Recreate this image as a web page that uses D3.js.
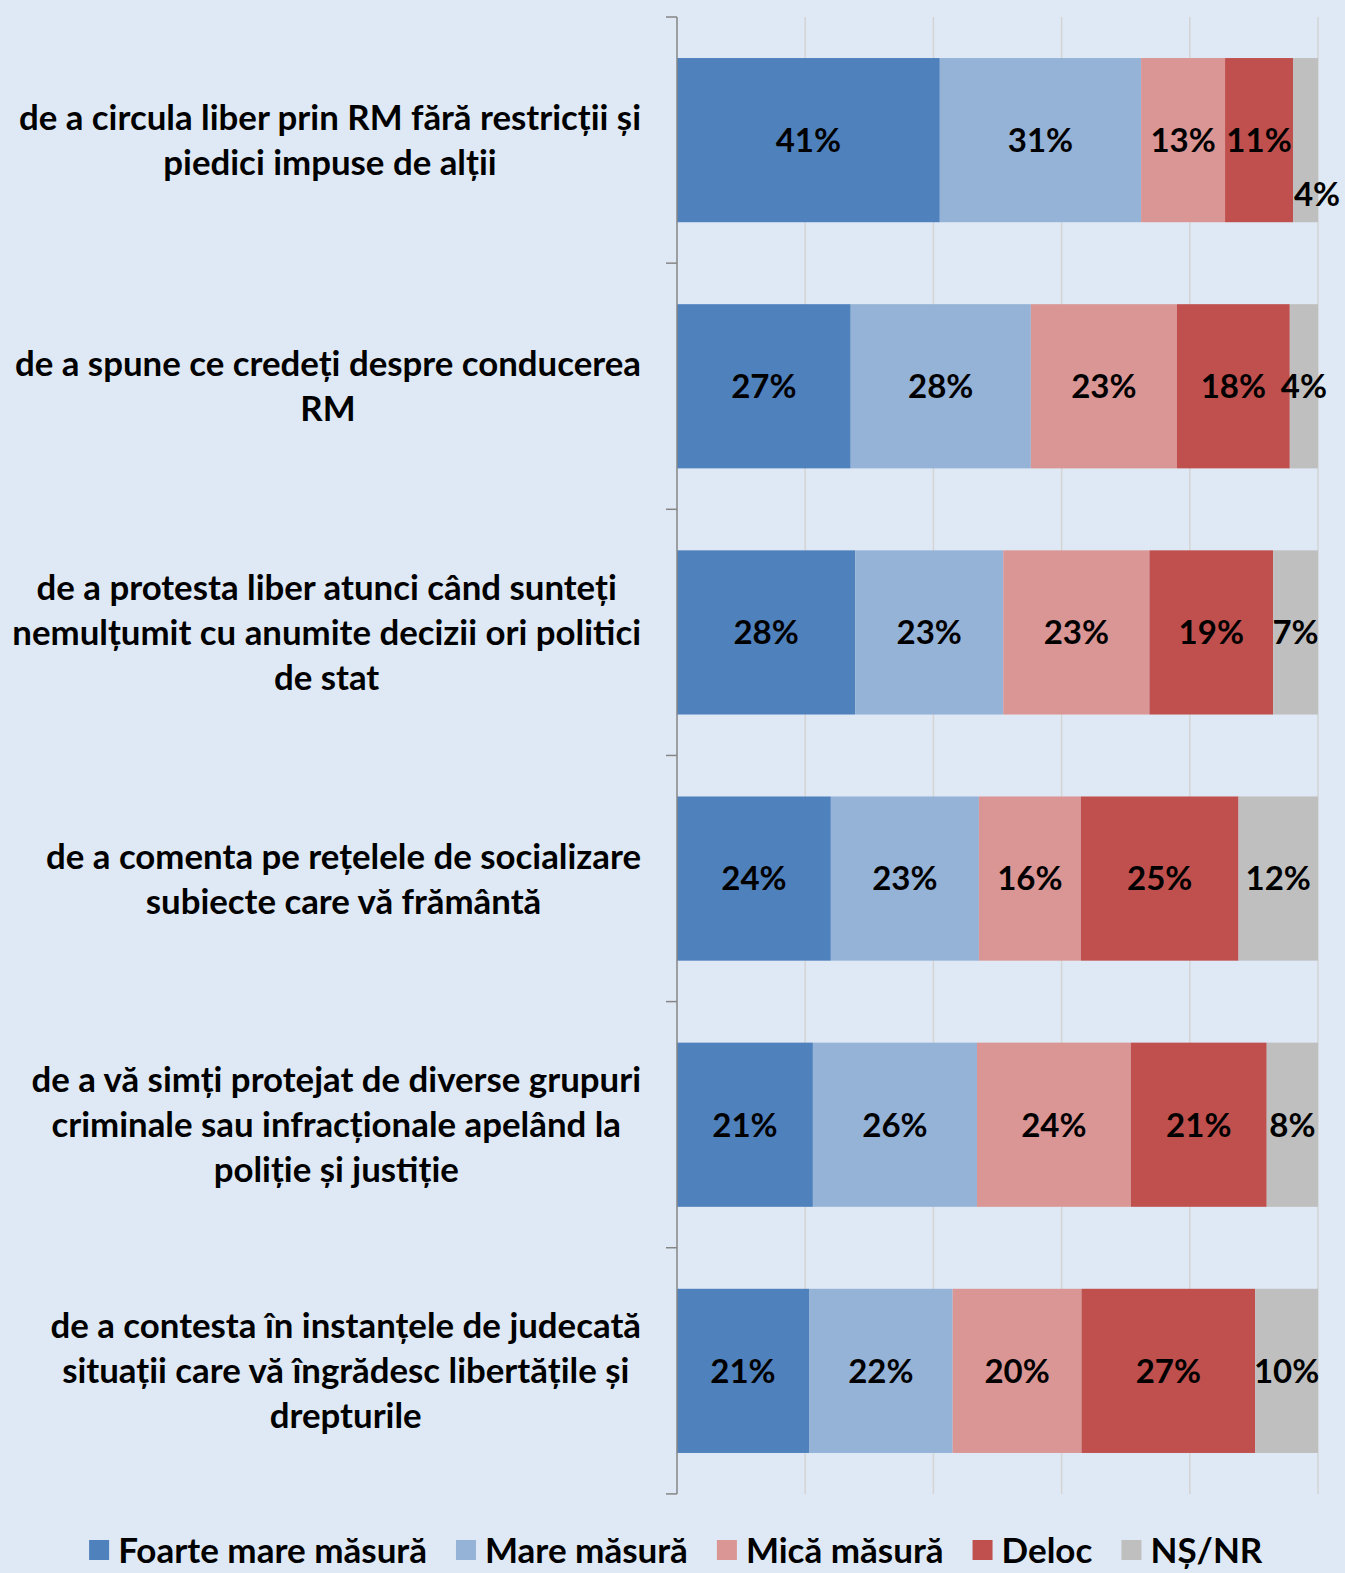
<!DOCTYPE html>
<html>
<head>
<meta charset="utf-8">
<style>
body { margin: 0; background: #dfe9f5; }
svg { display: block; }
text { font-family: Lato, "Open Sans", sans-serif; font-weight: 700; fill: #000; }
</style>
</head>
<body>
<svg width="1345" height="1573"></svg>
<script src="https://d3js.org/d3.v7.min.js"></script>
<script>
// categories, each one split into the lines shown on the chart
var categories = [
  ["de a circula liber prin RM fără restricții și", "piedici impuse de alții"],
  ["de a spune ce credeți despre conducerea", "RM"],
  ["de a protesta liber atunci când sunteți", "nemulțumit cu anumite decizii ori politici", "de stat"],
  ["de a comenta pe rețelele de socializare", "subiecte care vă frământă"],
  ["de a vă simți protejat de diverse grupuri", "criminale sau infracționale apelând la", "poliție și justiție"],
  ["de a contesta în instanțele de judecată", "situații care vă îngrădesc libertățile și", "drepturile"]
];
var seriesNames = ["Foarte mare măsură", "Mare măsură", "Mică măsură", "Deloc", "NȘ/NR"];
var seriesColors = ["#4f81bd", "#95b3d7", "#da9694", "#c0504d", "#bfbfbf"];

// percentages per series, one per category
var foarteMare = [41.0, 27.1, 27.8, 24.0, 21.2, 20.6];
var mare       = [31.4, 28.1, 23.1, 23.1, 25.6, 22.4];
var mica       = [13.1, 22.8, 22.8, 15.9, 24.0, 20.1];
var deloc      = [10.6, 17.6, 19.3, 24.6, 21.2, 27.1];
var nsnr       = [ 3.9,  4.4,  7.0, 12.4,  8.0,  9.8];
var gridTicks  = [0, 20, 40, 60, 80, 100];

var series = [foarteMare, mare, mica, deloc, nsnr];

var svg = d3.select("svg");
var plot = { left: 677, right: 1318, top: 17, bottom: 1494 };

var x = d3.scaleLinear().domain([0, 100]).range([plot.left, plot.right]);
var y = d3.scaleBand()
  .domain(d3.range(categories.length))
  .range([plot.top, plot.bottom])
  .paddingInner(0.333)
  .paddingOuter(0.1667);

// gridlines
svg.append("g").selectAll("line")
  .data(gridTicks.slice(1))
  .join("line")
    .attr("x1", d => x(d)).attr("x2", d => x(d))
    .attr("y1", plot.top).attr("y2", plot.bottom)
    .attr("stroke", "#d4d4d4").attr("stroke-width", 1.5);

// stacked rows
var rows = categories.map(function(c, i) {
  var row = {}; series.forEach(function(s, k) { row[k] = s[i]; }); row.i = i; return row;
});
var stack = d3.stack().keys(d3.range(series.length))(rows);

var layers = svg.append("g").selectAll("g")
  .data(stack)
  .join("g")
    .attr("fill", (d, k) => seriesColors[k]);

layers.selectAll("rect")
  .data(d => d)
  .join("rect")
    .attr("x", d => x(d[0]))
    .attr("y", d => y(d.data.i))
    .attr("width", d => x(d[1]) - x(d[0]))
    .attr("height", y.bandwidth());

// the tiny last slice of the first bar has its label moved out of the way
function nudged(d) { return d.data.i === 0 && d[1] - d[0] < 5; }

// value labels
layers.selectAll("text")
  .data(d => d)
  .join("text")
    .attr("x", d => nudged(d) ? x(d[1]) - 1 : (x(d[0]) + x(d[1])) / 2)
    .attr("y", d => y(d.data.i) + y.bandwidth() / 2 + (nudged(d) ? 54 : 0))
    .attr("text-anchor", "middle")
    .attr("dy", "0.36em")
    .attr("font-size", 33)
    .attr("fill", "#000")
    .text(d => Math.round(d[1] - d[0]) + "%");

// vertical axis with ticks between categories
var axis = svg.append("g").attr("stroke", "#868686").attr("stroke-width", 1.5);
axis.append("line")
  .attr("x1", plot.left).attr("x2", plot.left)
  .attr("y1", plot.top).attr("y2", plot.bottom);
axis.selectAll(".tk")
  .data(d3.range(categories.length + 1))
  .join("line")
    .attr("class", "tk")
    .attr("x1", plot.left - 11).attr("x2", plot.left)
    .attr("y1", i => plot.top + i * y.step())
    .attr("y2", i => plot.top + i * y.step());

// category labels: block right-aligned next to the axis, lines centred in it
var lineH = 45;
categories.forEach(function(lines, i) {
  var g = svg.append("g");
  var t = g.selectAll("text").data(lines).join("text")
    .attr("font-size", 34.8)
    .attr("text-anchor", "middle")
    .attr("dy", "0.36em")
    .text(d => d);
  var maxW = d3.max(t.nodes(), n => n.getComputedTextLength());
  var cx = 641 - maxW / 2;
  var cy = y(i) + y.bandwidth() / 2;
  t.attr("x", cx)
   .attr("y", (d, j) => cy + (j - (lines.length - 1) / 2) * lineH);
});

// legend
var legend = svg.append("g");
var items = legend.selectAll("g").data(seriesNames).join("g");
items.append("rect")
  .attr("width", 20).attr("height", 20)
  .attr("fill", (d, k) => seriesColors[k]);
items.append("text")
  .attr("x", 29).attr("y", 10)
  .attr("dy", "0.36em")
  .attr("font-size", 35)
  .text(d => d);
var widths = items.nodes().map(n => n.getBBox().width);
var gap = 29;
var total = d3.sum(widths) + gap * (widths.length - 1);
var xPos = 676 - total / 2;
items.attr("transform", function(d, k) {
  var tx = xPos; xPos += widths[k] + gap;
  return "translate(" + tx + ",1540)";
});
</script>
</body>
</html>
